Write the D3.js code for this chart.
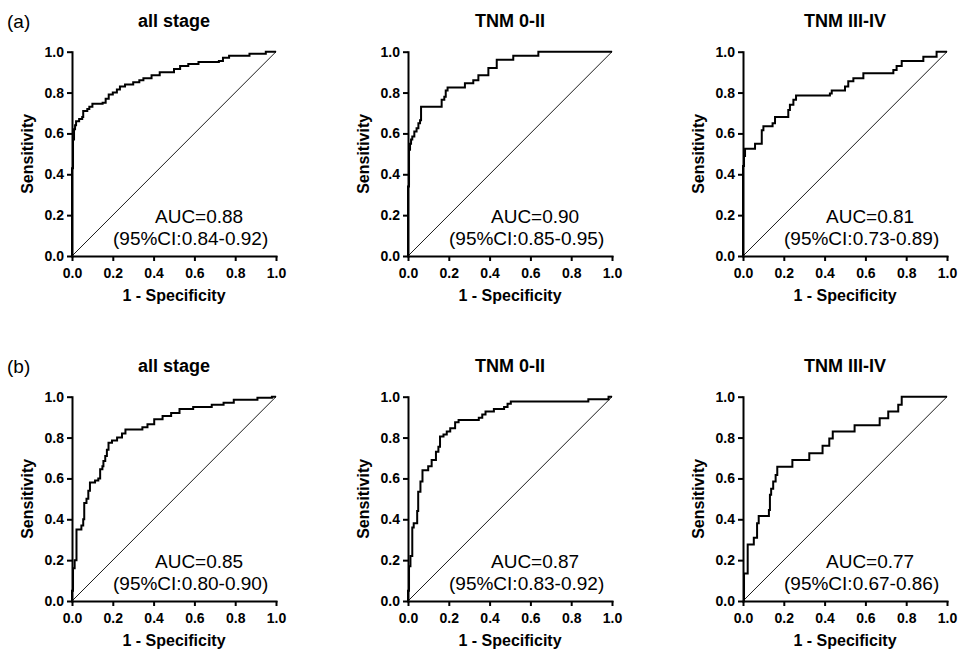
<!DOCTYPE html>
<html><head><meta charset="utf-8">
<script src="https://cdn.jsdelivr.net/npm/d3@7"></script>
<style>
body{margin:0;background:#fff}
svg{display:block}
text{font-family:"Liberation Sans",Arial,Helvetica,sans-serif}
</style>
</head><body>
<svg id="chart" width="958" height="649"></svg>
<script>
// ---- data ----
const rowLabels = ["(a)", "(b)"];
const panelTitles = ["all stage", "TNM 0-II", "TNM III-IV"];
const tickValues = [0, 0.2, 0.4, 0.6, 0.8, 1.0];
const xAxisTitle = "1 - Specificity";
const yAxisTitle = "Sensitivity";

const aucRowA = ["AUC=0.88", "AUC=0.90", "AUC=0.81"];
const ciRowA = ["(95%CI:0.84-0.92)", "(95%CI:0.85-0.95)", "(95%CI:0.73-0.89)"];
const aucRowB = ["AUC=0.85", "AUC=0.87", "AUC=0.77"];
const ciRowB = ["(95%CI:0.80-0.90)", "(95%CI:0.83-0.92)", "(95%CI:0.67-0.86)"];

// ROC points: [1 - specificity, sensitivity]
const rocAllStageA = [[0,0],[0,0.43],[0.005,0.57],[0.01,0.62],[0.015,0.64],[0.02,0.66],[0.035,0.67],[0.05,0.68],[0.055,0.71],[0.075,0.72],[0.085,0.73],[0.1,0.745],[0.15,0.75],[0.165,0.77],[0.18,0.79],[0.2,0.80],[0.22,0.815],[0.235,0.83],[0.26,0.84],[0.3,0.85],[0.33,0.86],[0.35,0.87],[0.39,0.885],[0.43,0.9],[0.5,0.915],[0.53,0.93],[0.57,0.94],[0.62,0.95],[0.72,0.955],[0.74,0.97],[0.77,0.98],[0.87,0.99],[0.95,1.0],[1,1]];
const rocEarlyA = [[0,0],[0,0.34],[0.005,0.52],[0.01,0.55],[0.015,0.57],[0.021,0.585],[0.031,0.61],[0.042,0.625],[0.051,0.65],[0.059,0.665],[0.064,0.73],[0.165,0.765],[0.178,0.78],[0.185,0.81],[0.194,0.825],[0.279,0.845],[0.32,0.86],[0.345,0.885],[0.394,0.92],[0.435,0.96],[0.516,0.98],[0.639,1.0],[1,1]];
const rocLateA = [[0,0],[0,0.44],[0.005,0.49],[0.01,0.525],[0.059,0.55],[0.092,0.615],[0.1,0.635],[0.145,0.65],[0.157,0.68],[0.222,0.715],[0.23,0.74],[0.247,0.765],[0.26,0.785],[0.426,0.795],[0.435,0.81],[0.5,0.83],[0.516,0.855],[0.541,0.87],[0.59,0.895],[0.737,0.91],[0.753,0.93],[0.778,0.955],[0.884,0.975],[0.949,1.0],[1,1]];
const rocAllStageB = [[0,0],[0,0.05],[0.005,0.16],[0.013,0.2],[0.022,0.35],[0.046,0.37],[0.055,0.40],[0.06,0.48],[0.071,0.50],[0.08,0.54],[0.088,0.58],[0.113,0.59],[0.129,0.60],[0.138,0.645],[0.149,0.66],[0.154,0.685],[0.163,0.71],[0.171,0.74],[0.179,0.775],[0.196,0.785],[0.221,0.80],[0.245,0.82],[0.262,0.84],[0.345,0.85],[0.37,0.865],[0.403,0.89],[0.444,0.905],[0.486,0.92],[0.527,0.94],[0.594,0.95],[0.685,0.96],[0.743,0.97],[0.793,0.985],[0.909,0.995],[0.98,1.0],[1,1]];
const rocEarlyB = [[0,0],[0,0.05],[0.005,0.17],[0.012,0.22],[0.021,0.36],[0.028,0.38],[0.045,0.44],[0.05,0.535],[0.061,0.585],[0.071,0.64],[0.099,0.66],[0.116,0.69],[0.137,0.73],[0.149,0.755],[0.157,0.805],[0.174,0.815],[0.19,0.83],[0.207,0.845],[0.231,0.875],[0.248,0.886],[0.347,0.897],[0.364,0.913],[0.38,0.927],[0.421,0.94],[0.471,0.95],[0.488,0.966],[0.504,0.977],[0.884,0.987],[0.983,1.0],[1,1]];
const rocLateB = [[0,0],[0.005,0.135],[0.023,0.277],[0.053,0.31],[0.069,0.38],[0.077,0.416],[0.127,0.445],[0.132,0.52],[0.138,0.55],[0.148,0.585],[0.16,0.617],[0.168,0.657],[0.242,0.69],[0.325,0.723],[0.39,0.76],[0.423,0.796],[0.44,0.83],[0.547,0.86],[0.67,0.894],[0.712,0.927],[0.761,0.96],[0.778,1.0],[1,1]];

const rows = [
  {label: rowLabels[0], curves: [rocAllStageA, rocEarlyA, rocLateA], auc: aucRowA, ci: ciRowA},
  {label: rowLabels[1], curves: [rocAllStageB, rocEarlyB, rocLateB], auc: aucRowB, ci: ciRowB}
];

// ---- layout ----
const colX = [72, 408, 743];
const rowTop = [51.7, 396.7];
const W = 204, H = 204.3;

const svg = d3.select("#chart");
const fmt = d3.format(".1f");

rows.forEach((row, ri) => {
  const top = rowTop[ri];
  svg.append("text").attr("x", 7).attr("y", top - 24)
    .attr("font-size", 19).attr("fill", "#000").text(row.label);

  row.curves.forEach((pts, ci) => {
    const left = colX[ci];
    const x = d3.scaleLinear().domain([0, 1]).range([0, W]);
    const y = d3.scaleLinear().domain([0, 1]).range([H, 0]);
    const g = svg.append("g").attr("transform", `translate(${left},${top})`);

    // title
    g.append("text").attr("x", W / 2).attr("y", -25).attr("text-anchor", "middle")
      .attr("font-size", 18).attr("font-weight", "bold").text(panelTitles[ci]);

    // reference diagonal
    g.append("line").attr("x1", x(0)).attr("y1", y(0)).attr("x2", x(1)).attr("y2", y(1))
      .attr("stroke", "#000").attr("stroke-width", 0.9);

    // ROC curve
    const line = d3.line().x(d => x(d[0])).y(d => y(d[1])).curve(d3.curveStepAfter);
    g.append("path").datum(pts).attr("d", line)
      .attr("fill", "none").attr("stroke", "#000").attr("stroke-width", 2)
      .attr("stroke-linejoin", "miter");

    // axes
    const xa = g.append("g").attr("transform", `translate(0,${H})`)
      .call(d3.axisBottom(x).tickValues(tickValues).tickFormat(fmt).tickSize(5).tickSizeOuter(0).tickPadding(7));
    const ya = g.append("g")
      .call(d3.axisLeft(y).tickValues(tickValues).tickFormat(fmt).tickSize(5).tickSizeOuter(0).tickPadding(3));
    [xa, ya].forEach(a => {
      a.select(".domain").attr("stroke-width", 2).attr("stroke-linecap", "square");
      a.selectAll(".tick line").attr("stroke-width", 2);
      a.selectAll(".tick text").attr("font-size", 14).attr("font-weight", "bold")
        .attr("fill", "#000").style("font-family", '"Liberation Sans",Arial,sans-serif');
    });

    // axis titles
    g.append("text").attr("x", W / 2).attr("y", H + 45).attr("text-anchor", "middle")
      .attr("font-size", 16).attr("font-weight", "bold").text(xAxisTitle);
    g.append("text").attr("transform", `translate(-39,${H / 2}) rotate(-90)`)
      .attr("text-anchor", "middle").attr("font-size", 16).attr("font-weight", "bold").text(yAxisTitle);

    // AUC annotation
    g.append("text").attr("x", 83).attr("y", H - 33).attr("font-size", 19).text(row.auc[ci]);
    g.append("text").attr("x", 41).attr("y", H - 11).attr("font-size", 19).text(row.ci[ci]);
  });
});
</script>
</body></html>
